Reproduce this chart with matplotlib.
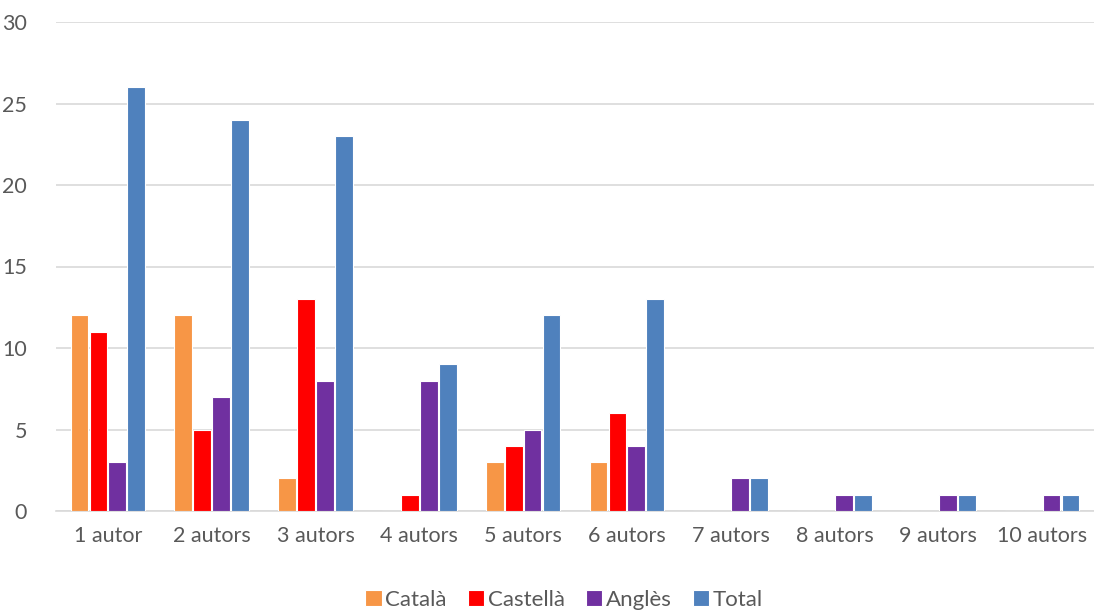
import matplotlib
matplotlib.use("Agg")
import matplotlib.pyplot as plt
import numpy as np

plt.rcParams['font.family'] = ['Lato', 'DejaVu Sans']
TEXT = '#595959'

categories = ['1 autor', '2 autors', '3 autors', '4 autors', '5 autors',
              '6 autors', '7 autors', '8 autors', '9 autors', '10 autors']
catala = [12, 12, 2, 0, 3, 3, 0, 0, 0, 0]
castella = [11, 5, 13, 1, 4, 6, 0, 0, 0, 0]
angles = [3, 7, 8, 8, 5, 4, 2, 1, 1, 1]
total = [26, 24, 23, 9, 12, 13, 2, 1, 1, 1]

series = [('Català', catala, '#F79646'),
          ('Castellà', castella, '#FF0000'),
          ('Anglès', angles, '#7030A0'),
          ('Total', total, '#4F81BD')]

fig = plt.figure(figsize=(10.94, 6.11), dpi=100)
ax = fig.add_axes([56 / 1094, 1 - 511 / 611, 1 - 56 / 1094, (511 - 22) / 611])

x = np.arange(len(categories))
pitch = 0.182
width = 0.172
for i, (name, vals, color) in enumerate(series):
    ax.bar(x + (i - 1.5) * pitch, vals, width, color=color, label=name,
           edgecolor='white', linewidth=0.8, zorder=3)

ax.set_xlim(-0.5, len(categories) - 0.5)
ax.set_ylim(0, 30)
ax.set_yticks(range(0, 31, 5))
ax.yaxis.grid(True, color='#D9D9D9', linewidth=1.2, zorder=0)
ax.set_axisbelow(True)
for s in ['top', 'right', 'left']:
    ax.spines[s].set_visible(False)
ax.spines['bottom'].set_color('#D9D9D9')
ax.spines['bottom'].set_linewidth(1.2)
ax.tick_params(axis='both', length=0, labelsize=15.5, colors=TEXT)
ax.tick_params(axis='x', pad=11)
ax.tick_params(axis='y', pad=21)
ax.set_xticks(x)
ax.set_xticklabels(categories)

# legend row along the bottom edge
fig.legend(loc='center', bbox_to_anchor=(564 / 1094, 1 - 600 / 611), ncol=4,
           frameon=False, fontsize=16, labelcolor=TEXT, handlelength=0.75,
           handleheight=0.75, handletextpad=0.15, columnspacing=0.95)

fig.savefig('out.png', dpi=100)
